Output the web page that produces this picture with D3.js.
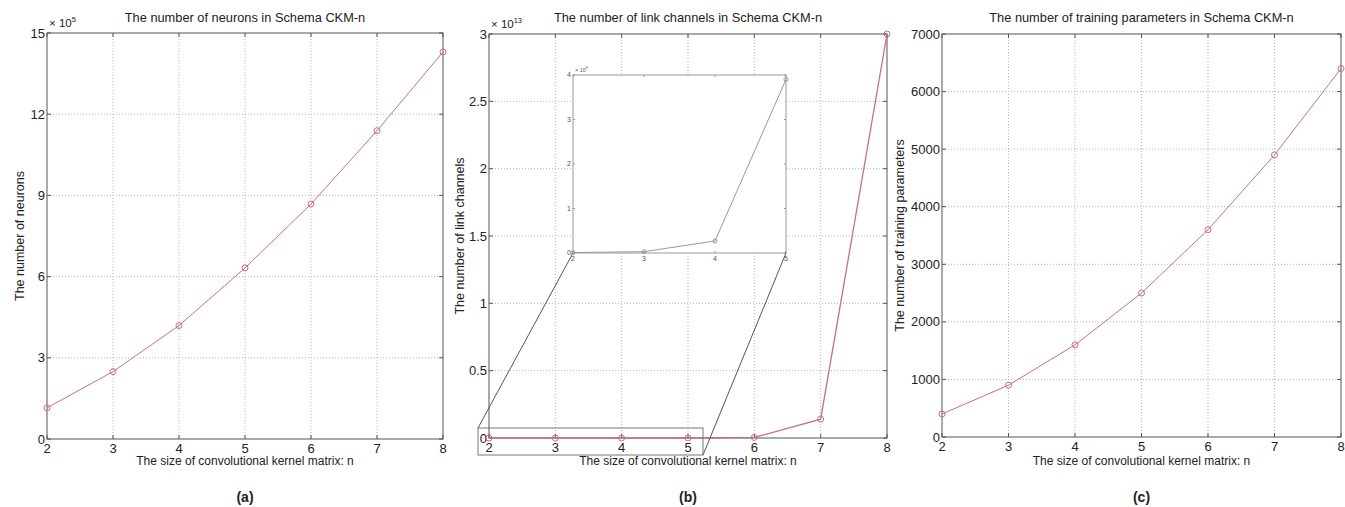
<!DOCTYPE html>
<html lang="en">
<head>
    <meta charset="UTF-8">
    <title>Schema CKM-n</title>
    <script src="https://cdn.jsdelivr.net/npm/d3@7"></script>
    <style>
        body { margin: 0; background: #fff; }
        text { font-family: "Liberation Sans", Arial, sans-serif; fill: #222; }
    </style>
</head>
<body>
    <svg></svg>
</body>
<script>
    const width = 1345, height = 507;

    // data
    const nValues = [2, 3, 4, 5, 6, 7, 8];
    const neurons = [1.15, 2.49, 4.19, 6.32, 8.68, 11.39, 14.3];          // x 10^5
    const linkChannels = [0, 0, 0, 0, 0.004, 0.14, 3.0];                   // x 10^13
    const trainingParams = [400, 900, 1600, 2500, 3600, 4900, 6400];

    // inset of panel (b), n = 2..5
    const insetN = [2, 3, 4, 5];
    const insetLinks = [0.01, 0.03, 0.27, 3.9];                            // x 10^9

    const neuronTicks = [0, 3, 6, 9, 12, 15];
    const linkTicks = [0, 0.5, 1, 1.5, 2, 2.5, 3];
    const paramTicks = [0, 1000, 2000, 3000, 4000, 5000, 6000, 7000];
    const insetTicks = [0, 1, 2, 3, 4];

    const panels = [
        { box: [47, 443, 33, 439], values: neurons, ticks: neuronTicks, exp: '5',
          title: 'The number of neurons in Schema CKM-n', ylabel: 'The number of neurons', ylabelX: 20, tag: '(a)' },
        { box: [489, 887, 34, 438], values: linkChannels, ticks: linkTicks, exp: '13',
          title: 'The number of link channels in Schema CKM-n', ylabel: 'The number of link channels', ylabelX: 460, tag: '(b)' },
        { box: [942, 1341, 34, 437], values: trainingParams, ticks: paramTicks, exp: null,
          title: 'The number of training parameters in Schema CKM-n', ylabel: 'The number of training parameters', ylabelX: 900, tag: '(c)' }
    ];

    const lineColor = '#c8707e';

    const svg = d3.select('svg')
        .attr('width', width)
        .attr('height', height);

    // draws one matlab-style axes box; returns the scales
    function drawAxes(g, box, xDomain, xTicks, yTicks, opt) {
        const [x0, x1, y0, y1] = box;
        const x = d3.scaleLinear().domain(xDomain).range([x0, x1]);
        const y = d3.scaleLinear().domain(d3.extent(yTicks)).range([y1, y0]);
        const tl = opt.tickLen;

        g.append('rect')
            .attr('x', x0).attr('y', y0)
            .attr('width', x1 - x0).attr('height', y1 - y0)
            .attr('fill', '#fff');

        if (opt.grid) {
            g.selectAll(null).data(xTicks.slice(1, -1)).join('line')
                .attr('x1', d => x(d)).attr('x2', d => x(d))
                .attr('y1', y0).attr('y2', y1)
                .attr('stroke', '#b5b5b5').attr('stroke-dasharray', '1,2');
            g.selectAll(null).data(yTicks.slice(1, -1)).join('line')
                .attr('y1', d => y(d)).attr('y2', d => y(d))
                .attr('x1', x0).attr('x2', x1)
                .attr('stroke', '#b5b5b5').attr('stroke-dasharray', '1,2');
        }

        // inward ticks on all four sides
        g.selectAll(null).data(xTicks).join('path')
            .attr('d', d => `M${x(d)},${y1}v${-tl}M${x(d)},${y0}v${tl}`)
            .attr('stroke', opt.axisColor);
        g.selectAll(null).data(yTicks).join('path')
            .attr('d', d => `M${x0},${y(d)}h${tl}M${x1},${y(d)}h${-tl}`)
            .attr('stroke', opt.axisColor);

        g.append('rect')
            .attr('x', x0).attr('y', y0)
            .attr('width', x1 - x0).attr('height', y1 - y0)
            .attr('fill', 'none').attr('stroke', opt.axisColor);

        g.selectAll(null).data(xTicks).join('text')
            .attr('x', d => x(d)).attr('y', y1 + opt.fs + 1)
            .attr('text-anchor', 'middle')
            .attr('font-size', opt.fs)
            .style('fill', opt.textColor)
            .text(d => d);
        g.selectAll(null).data(yTicks).join('text')
            .attr('x', x0 - 2).attr('y', d => y(d))
            .attr('dy', '0.35em')
            .attr('text-anchor', 'end')
            .attr('font-size', opt.fs)
            .style('fill', opt.textColor)
            .text(d => d);

        return { x, y };
    }

    panels.forEach(p => {
        const g = svg.append('g');
        const [x0, x1, y0, y1] = p.box;
        const cx = (x0 + x1) / 2;
        const { x, y } = drawAxes(g, p.box, [2, 8], nValues, p.ticks,
            { grid: true, tickLen: 4, fs: 13, axisColor: '#555', textColor: '#222' });

        g.append('text')
            .attr('x', cx).attr('y', 22)
            .attr('text-anchor', 'middle')
            .attr('font-size', 12.8)
            .text(p.title);

        if (p.exp) {
            const t = g.append('text')
                .attr('x', x0 + 2).attr('y', y0 - 6)
                .attr('font-size', 11.5);
            t.append('tspan').text('\u00d7 10');
            t.append('tspan').attr('dy', -5).attr('font-size', 7.5).text(p.exp);
        }

        g.append('text')
            .attr('transform', `translate(${p.ylabelX},${(y0 + y1) / 2}) rotate(-90)`)
            .attr('text-anchor', 'middle')
            .attr('dy', '0.35em')
            .attr('font-size', 12.5)
            .text(p.ylabel);

        g.append('text')
            .attr('x', cx).attr('y', 465)
            .attr('text-anchor', 'middle')
            .attr('font-size', 12)
            .text('The size of convolutional kernel matrix: n');

        g.append('text')
            .attr('x', cx).attr('y', 502)
            .attr('text-anchor', 'middle')
            .attr('font-size', 14)
            .attr('font-weight', 'bold')
            .text(p.tag);

        const pts = nValues.map((n, i) => [x(n), y(p.values[i])]);
        g.append('path')
            .attr('d', d3.line()(pts))
            .attr('fill', 'none')
            .attr('stroke', lineColor)
            .attr('stroke-width', p.tag === '(b)' ? 1.3 : 1);
        g.selectAll(null).data(pts).join('circle')
            .attr('cx', d => d[0]).attr('cy', d => d[1])
            .attr('r', 3)
            .attr('fill', 'none')
            .attr('stroke', lineColor);

        p.x = x; p.y = y;
    });

    // zoom callout on panel (b)
    const pb = panels[1];
    const gz = svg.append('g');
    const zr = { x0: pb.x(2) - 11, x1: pb.x(5) + 15, y0: pb.y(0) - 10, y1: pb.y(0) + 17 };
    const inBox = [573, 786, 75, 253];

    gz.append('line')
        .attr('x1', zr.x0).attr('y1', zr.y0)
        .attr('x2', inBox[0]).attr('y2', inBox[3])
        .attr('stroke', '#555');
    gz.append('line')
        .attr('x1', zr.x1).attr('y1', zr.y1)
        .attr('x2', inBox[1]).attr('y2', inBox[3])
        .attr('stroke', '#555');
    gz.append('rect')
        .attr('x', zr.x0).attr('y', zr.y0)
        .attr('width', zr.x1 - zr.x0).attr('height', zr.y1 - zr.y0)
        .attr('fill', 'none').attr('stroke', '#6f7d6f');

    const gi = svg.append('g');
    const ins = drawAxes(gi, inBox, [2, 5], insetN, insetTicks,
        { grid: false, tickLen: 2, fs: 7, axisColor: '#999', textColor: '#555' });
    const it = gi.append('text')
        .attr('x', inBox[0] + 2).attr('y', inBox[2] - 3)
        .attr('font-size', 5.5).style('fill', '#555');
    it.append('tspan').text('\u00d7 10');
    it.append('tspan').attr('dy', -3).attr('font-size', 4).text('9');

    const ipts = insetN.map((n, i) => [ins.x(n), ins.y(insetLinks[i])]);
    gi.append('path')
        .attr('d', d3.line()(ipts))
        .attr('fill', 'none')
        .attr('stroke', '#9a9a9a');
    gi.selectAll(null).data(ipts).join('circle')
        .attr('cx', d => d[0]).attr('cy', d => d[1])
        .attr('r', 2)
        .attr('fill', 'none')
        .attr('stroke', '#9a9a9a');
</script>
</html>
